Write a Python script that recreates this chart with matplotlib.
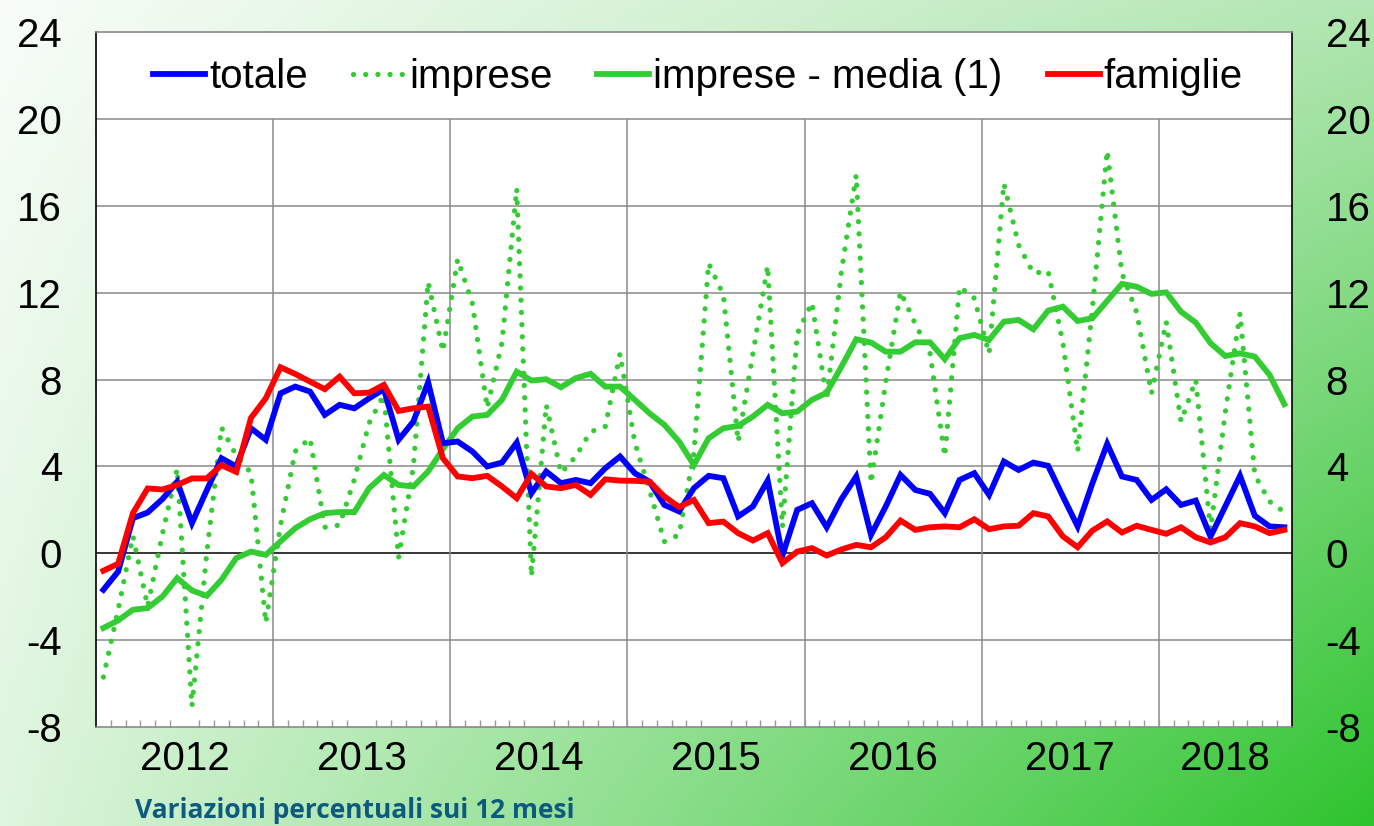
import numpy as np
import pandas as pd
import matplotlib
matplotlib.use('Agg')
import matplotlib.pyplot as plt

# ---------------- data (monthly, Jan 2012 - Sep 2018) ----------------
months = pd.date_range('2012-01-01', periods=81, freq='MS')

totale = [-1.68, -0.84, 1.62, 1.88, 2.5, 3.3, 1.39, 2.9, 4.38, 4.0,
          5.76, 5.23, 7.37, 7.68, 7.45, 6.38, 6.84, 6.68, 7.14, 7.56,
          5.23, 6.07, 7.88, 5.07, 5.15, 4.69, 4.0, 4.18, 5.1, 2.77,
          3.77, 3.23, 3.38, 3.23, 3.92, 4.46, 3.69, 3.3, 2.23, 1.93,
          3.0, 3.57, 3.46, 1.7, 2.16, 3.35, -0.1, 2.0, 2.31, 1.2,
          2.5, 3.54, 0.85, 2.16, 3.61, 2.92, 2.74, 1.85, 3.38, 3.69,
          2.69, 4.23, 3.84, 4.18, 4.03, 2.62, 1.24, 3.23, 5.04, 3.54,
          3.38, 2.46, 2.95, 2.23, 2.43, 0.77, 2.16, 3.57, 1.73, 1.24,
          1.2]

imprese = [-5.7, -2.6, 0.8, -2.45, 0.9, 3.9, -7.05, 0.0, 5.8, 4.5,
           3.7, -3.2, 1.3, 4.7, 5.3, 1.2, 1.3, 3.4, 6.0, 7.3,
           -0.2, 4.0, 12.5, 9.3, 13.55, 11.5, 6.7, 9.7, 16.8, -1.07,
           6.84, 3.7, 4.46, 5.6, 5.84, 9.2, 5.1, 2.9, 0.54, 0.85,
           4.6, 13.36, 11.9, 5.14, 9.2, 13.25, 1.2, 10.1, 11.55, 7.1,
           13.0, 17.43, 3.23, 7.9, 12.05, 10.57, 9.21, 4.46, 12.28, 11.75,
           9.2, 17.04, 14.2, 12.9, 13.0, 9.7, 4.69, 11.3, 18.55, 12.9,
           11.1, 7.37, 10.67, 6.07, 7.99, 1.08, 6.5, 11.06, 3.6, 2.39,
           1.9]

imprese_media = [-3.44, -3.09, -2.6, -2.52, -1.99, -1.14, -1.71, -1.96, -1.22, -0.22,
                 0.08, -0.07, 0.55, 1.16, 1.57, 1.85, 1.9, 1.9, 3.0, 3.61,
                 3.15, 3.08, 3.77, 4.8, 5.76, 6.3, 6.38, 7.07, 8.37, 7.96,
                 8.02, 7.65, 8.07, 8.27, 7.68, 7.68, 7.07, 6.45, 5.92, 5.15,
                 4.07, 5.3, 5.76, 5.87, 6.3, 6.84, 6.45, 6.53, 7.07, 7.4,
                 8.6, 9.86, 9.71, 9.29, 9.29, 9.72, 9.72, 8.94, 9.91, 10.06,
                 9.83, 10.67, 10.75, 10.32, 11.18, 11.36, 10.7, 10.83, 11.63, 12.41,
                 12.28, 11.95, 12.02, 11.13, 10.63, 9.68, 9.09, 9.21, 9.06, 8.22,
                 6.87]

famiglie = [-0.8, -0.48, 1.85, 2.99, 2.94, 3.15, 3.45, 3.45, 4.06, 3.75,
            6.24, 7.14, 8.57, 8.26, 7.91, 7.56, 8.14, 7.37, 7.4, 7.76,
            6.56, 6.68, 6.76, 4.38, 3.54, 3.46, 3.57, 3.08, 2.54, 3.66,
            3.08, 3.0, 3.15, 2.69, 3.41, 3.35, 3.34, 3.3, 2.62, 2.13,
            2.46, 1.39, 1.46, 0.93, 0.59, 0.93, -0.45, 0.08, 0.24, -0.1,
            0.18, 0.39, 0.28, 0.74, 1.51, 1.08, 1.2, 1.24, 1.2, 1.57,
            1.11, 1.24, 1.27, 1.85, 1.7, 0.78, 0.28, 1.05, 1.47, 0.96,
            1.27, 1.08, 0.9, 1.2, 0.74, 0.5, 0.74, 1.39, 1.24, 0.93,
            1.08]

series_labels = ['totale', 'imprese', 'imprese - media (1)', 'famiglie']
yticks = [-8, -4, 0, 4, 8, 12, 16, 20, 24]
footnote = 'Variazioni percentuali sui 12 mesi'

# ---------------- figure ----------------
plt.rcParams['font.family'] = ['Liberation Sans', 'DejaVu Sans']
W, H = 1374, 826
fig = plt.figure(figsize=(W / 100, H / 100), dpi=100)

# gradient background (light top-left -> green bottom-right)
bg = fig.add_axes([0, 0, 1, 1], zorder=-10)
ny, nx = 200, 300
yy, xx = np.mgrid[0:1:ny * 1j, 0:1:nx * 1j]
tl = np.array([248, 253, 248]) / 255
tr = np.array([178, 230, 178]) / 255
bl = np.array([222, 245, 222]) / 255
br = np.array([46, 196, 46]) / 255
img = (tl * ((1 - xx) * (1 - yy))[..., None] + tr * (xx * (1 - yy))[..., None]
       + bl * ((1 - xx) * yy)[..., None] + br * (xx * yy)[..., None])
bg.imshow(img, aspect='auto', extent=[0, 1, 0, 1], origin='upper')
bg.set_axis_off()

ax = fig.add_axes([96 / W, 99 / H, 1195.7 / W, 694.7 / H])
ax.set_facecolor('white')

x = np.arange(len(months))
grid_c = '#8a8a8a'

# year boundaries and label positions derived from the month list
years = sorted(set(months.year))
bounds = [i - 0.5 for i in range(1, len(months)) if months[i].year != months[i - 1].year]
centers = [np.mean(x[months.year == yr]) for yr in years]

for yv in yticks[1:-1]:
    ax.axhline(yv, color='black' if yv == 0 else grid_c, lw=1.1, zorder=1)
ax.vlines(bounds, yticks[0], yticks[-2], color=grid_c, lw=1.1, zorder=1)

ax.plot(x, imprese, color='#33cc33', lw=3.8, linestyle=(0, (0.01, 2.3)),
        dash_capstyle='round', label=series_labels[1], zorder=3)
ax.plot(x, imprese_media, color='#33cc33', lw=4.2, label=series_labels[2],
        solid_joinstyle='miter', zorder=4)
ax.plot(x, totale, color='#0000ff', lw=4.2, label=series_labels[0],
        solid_joinstyle='miter', zorder=5)
ax.plot(x, famiglie, color='#ff0000', lw=4.2, label=series_labels[3],
        solid_joinstyle='miter', zorder=6)

ax.set_xlim(-0.5, len(months) - 0.5)
ax.set_ylim(yticks[0], yticks[-1])

ax.set_yticks(yticks)
ax.set_yticklabels([str(v) for v in yticks])
ax.tick_params(axis='y', length=0, pad=24.5, labelsize=29, labelright=True)

ax.set_xticks(centers)
ax.set_xticklabels([str(y) for y in years])
ax.tick_params(axis='x', which='major', length=0, pad=9, labelsize=29)
ax.set_xticks([i + 0.5 for i in range(len(months) - 1)], minor=True)
ax.tick_params(axis='x', which='minor', direction='in', length=5,
               color='#9a9a9a', width=1)

for s in ['left', 'right']:
    ax.spines[s].set_color('black')
    ax.spines[s].set_linewidth(1.2)
for s in ['top', 'bottom']:
    ax.spines[s].set_color(grid_c)
    ax.spines[s].set_linewidth(1.2)

handles, labels = ax.get_legend_handles_labels()
order = [labels.index(l) for l in series_labels]
ax.legend([handles[i] for i in order], [labels[i] for i in order],
          loc='center', bbox_to_anchor=(0.5035, 0.935), ncol=4,
          frameon=False, fontsize=29, handlelength=1.29, handletextpad=0.1,
          columnspacing=1.12, borderpad=0, borderaxespad=0)

fig.text(135 / W, 15 / H, footnote, fontfamily=['Open Sans', 'DejaVu Sans'],
         fontweight='bold', fontsize=19, color='#0d5a7f', ha='left', va='center')

fig.savefig('out.png', dpi=100)
